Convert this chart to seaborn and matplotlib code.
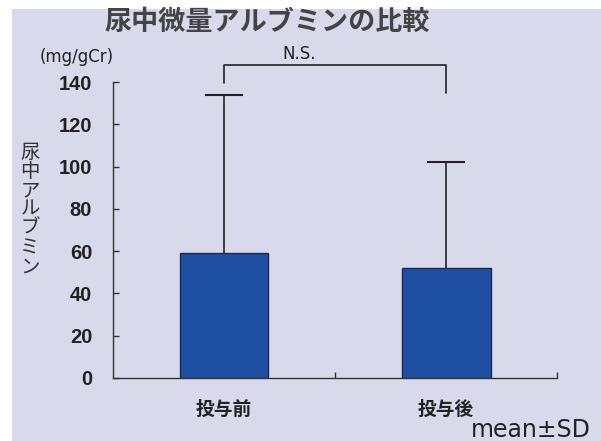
import numpy as np
import pandas as pd
import matplotlib
matplotlib.use('Agg')
import matplotlib.pyplot as plt
import seaborn as sns
from matplotlib.patches import Rectangle

groups = ['投与前', '投与後']
means = [59, 52]
sds = [75, 50]

sns.set_style('ticks')
plt.rcParams['font.family'] = ['Noto Sans CJK JP', 'DejaVu Sans']

bg = '#d9d9ec'
fig = plt.figure(figsize=(6.01, 4.41), dpi=100)
fig.patch.set_facecolor('white')
fig.patches.append(Rectangle((0.02, 0), 0.98, 0.98, transform=fig.transFigure,
                             facecolor=bg, edgecolor='none', zorder=-10))

ax = fig.add_axes([0.188, 0.143, 0.739, 0.671])
ax.set_facecolor(bg)

df = pd.DataFrame({'group': groups, 'mean': means})
sns.barplot(data=df, x='group', y='mean', color='#1f4fa3', width=0.4,
            edgecolor='#1a2a50', linewidth=1, saturation=1, errorbar=None, ax=ax,
            zorder=2)
# SD bars drawn behind the bars, so only the upper half shows
ax.errorbar(range(len(groups)), means, yerr=sds, fmt='none',
            ecolor='#222222', elinewidth=1.2, capsize=14, capthick=1.5, zorder=1)

ax.set_xlim(-0.5, 1.5)
ax.set_ylim(0, 140)
ax.set_yticks(range(0, 141, 20))
ax.set_yticklabels([str(v) for v in range(0, 141, 20)], fontsize=14.5, fontweight='bold',
                   family=['Liberation Sans', 'Noto Sans CJK JP'], color='#222222')
ax.set_xticks([0.5, 1.5])
ax.set_xticklabels([])
ax.tick_params(axis='both', direction='in', length=4, width=1, color='#333333')
ax.tick_params(axis='y', pad=15)
for i, g in enumerate(groups):
    ax.text(i, -15, g, ha='center', va='center', fontsize=13.5, fontweight='bold',
            color='#222222')
for s in ['top', 'right']:
    ax.spines[s].set_visible(False)
for s in ['left', 'bottom']:
    ax.spines[s].set_color('#333333')
    ax.spines[s].set_linewidth(1)
ax.set_xlabel('')
ax.set_ylabel('')

# significance bracket
ax.plot([0, 0, 1, 1], [139.5, 148, 148, 135], color='#222222', lw=1.2, clip_on=False)
ax.text(0.34, 149, 'N.S.', ha='center', va='bottom', fontsize=12,
        family=['DejaVu Sans'], color='#222222')

fig.text(0.445, 0.95, '尿中微量アルブミンの比較', ha='center', va='center',
         fontsize=19.5, fontweight='bold', color='#444444')
fig.text(0.128, 0.87, '(mg/gCr)', ha='center', va='center', fontsize=12,
         family=['DejaVu Sans'], color='#222222')
fig.text(0.05, 0.525, '\n'.join('尿中アルブミン'), ha='center', va='center',
         fontsize=14, color='#333333', linespacing=0.88)
fig.text(0.883, 0.025, 'mean±SD', ha='center', va='center', fontsize=17,
         family=['DejaVu Sans'], color='#222222')

fig.savefig('out.png', dpi=100, facecolor=fig.get_facecolor())
